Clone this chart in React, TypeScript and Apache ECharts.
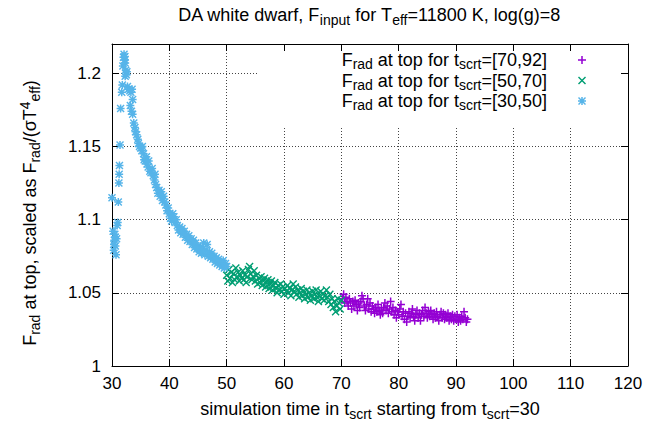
import React, { useEffect, useRef } from "react";
import * as echarts from "echarts";

const titleText = "{m|DA white dwarf, F}{s|input}{m| for T}{s|eff}{m|=11800 K, log(g)=8}";
const xName = "{m|simulation time in t}{s|scrt}{m| starting from t}{s|scrt}{m|=30}";
const yName = "{m|F}{s|rad}{m| at top, scaled as F}{s|rad}{m|/(σT}{u|4}{s|eff}{m|)}";

const legendNames = ["[70,92]", "[50,70]", "[30,50]"];
const seriesColors = ["#9400d3", "#009e73", "#56b4e9"];

const xMin = 30;
const xMax = 120;
const xStep = 10;
const yMin = 1;
const yMax = 1.22;
const yStep = 0.05;

const run70to92: [number, number][] = [
  [70.2, 1.046], [70.4, 1.049], [70.6, 1.043], [70.8, 1.047], [71.0, 1.044], [71.2, 1.041], [71.4, 1.046], [71.6, 1.043],
  [71.8, 1.039], [72.0, 1.044], [72.2, 1.041], [72.4, 1.045], [72.6, 1.042], [72.8, 1.038], [73.0, 1.043], [73.2, 1.040],
  [73.4, 1.044], [73.6, 1.048], [73.8, 1.046], [74.0, 1.041], [74.2, 1.038], [74.4, 1.042], [74.6, 1.046], [74.8, 1.039],
  [75.0, 1.043], [75.2, 1.037], [75.4, 1.041], [75.6, 1.039], [75.8, 1.036], [76.0, 1.040], [76.2, 1.037], [76.4, 1.042],
  [76.6, 1.038], [76.8, 1.035], [77.0, 1.039], [77.2, 1.036], [77.4, 1.040], [77.6, 1.043], [77.8, 1.038], [78.0, 1.041],
  [78.2, 1.036], [78.4, 1.039], [78.6, 1.044], [78.8, 1.037], [79.0, 1.040], [79.2, 1.035], [79.4, 1.038], [79.6, 1.033],
  [79.8, 1.037], [80.0, 1.035], [80.2, 1.039], [80.4, 1.042], [80.6, 1.034], [80.8, 1.037], [81.0, 1.032], [81.2, 1.036],
  [81.4, 1.030], [81.6, 1.034], [81.8, 1.037], [82.0, 1.033], [82.2, 1.036], [82.4, 1.039], [82.6, 1.034], [82.8, 1.031],
  [83.0, 1.035], [83.2, 1.038], [83.4, 1.033], [83.6, 1.036], [83.8, 1.031], [84.0, 1.035], [84.2, 1.038], [84.4, 1.034],
  [84.6, 1.040], [84.8, 1.036], [85.0, 1.033], [85.2, 1.037], [85.4, 1.034], [85.6, 1.038], [85.8, 1.035], [86.0, 1.032],
  [86.2, 1.036], [86.4, 1.033], [86.6, 1.037], [86.8, 1.034], [87.0, 1.031], [87.2, 1.035], [87.4, 1.037], [87.6, 1.033],
  [87.8, 1.036], [88.0, 1.032], [88.2, 1.035], [88.4, 1.033], [88.6, 1.036], [88.8, 1.031], [89.0, 1.034], [89.2, 1.032],
  [89.4, 1.035], [89.6, 1.031], [89.8, 1.034], [90.0, 1.032], [90.2, 1.035], [90.4, 1.030], [90.6, 1.033], [90.8, 1.031],
  [91.0, 1.034], [91.2, 1.032], [91.4, 1.037], [91.6, 1.033], [91.8, 1.030], [92.0, 1.032],
];

const run50to70: [number, number][] = [
  [50.0, 1.062], [50.2, 1.058], [50.4, 1.066], [50.6, 1.060], [50.8, 1.064], [51.0, 1.057], [51.2, 1.063], [51.4, 1.059],
  [51.6, 1.067], [51.8, 1.061], [52.0, 1.064], [52.2, 1.058], [52.4, 1.062], [52.6, 1.060], [52.8, 1.065], [53.0, 1.059],
  [53.2, 1.062], [53.4, 1.057], [53.6, 1.061], [53.8, 1.066], [54.0, 1.068], [54.2, 1.063], [54.4, 1.059], [54.6, 1.061],
  [54.8, 1.065], [55.0, 1.058], [55.2, 1.062], [55.4, 1.056], [55.6, 1.060], [55.8, 1.057], [56.0, 1.061], [56.2, 1.055],
  [56.4, 1.058], [56.6, 1.060], [56.8, 1.054], [57.0, 1.057], [57.2, 1.059], [57.4, 1.053], [57.6, 1.056], [57.8, 1.058],
  [58.0, 1.052], [58.2, 1.055], [58.4, 1.057], [58.6, 1.053], [58.8, 1.050], [59.0, 1.055], [59.2, 1.052], [59.4, 1.056],
  [59.6, 1.051], [59.8, 1.054], [60.0, 1.049], [60.2, 1.053], [60.4, 1.051], [60.6, 1.055], [60.8, 1.050], [61.0, 1.053],
  [61.2, 1.048], [61.4, 1.052], [61.6, 1.056], [61.8, 1.051], [62.0, 1.054], [62.2, 1.049], [62.4, 1.052], [62.6, 1.047],
  [62.8, 1.050], [63.0, 1.053], [63.2, 1.048], [63.4, 1.051], [63.6, 1.046], [63.8, 1.049], [64.0, 1.052], [64.2, 1.047],
  [64.4, 1.050], [64.6, 1.045], [64.8, 1.048], [65.0, 1.051], [65.2, 1.046], [65.4, 1.049], [65.6, 1.052], [65.8, 1.047],
  [66.0, 1.044], [66.2, 1.048], [66.4, 1.051], [66.6, 1.046], [66.8, 1.049], [67.0, 1.045], [67.2, 1.048], [67.4, 1.052],
  [67.6, 1.047], [67.8, 1.044], [68.0, 1.049], [68.2, 1.042], [68.4, 1.046], [68.6, 1.040], [68.8, 1.044], [69.0, 1.037],
  [69.2, 1.041], [69.4, 1.046], [69.6, 1.043], [69.8, 1.039], [70.0, 1.045],
];

const run30to50: [number, number][] = [
  [30.0, 1.115], [30.2, 1.092], [30.3, 1.079], [30.35, 1.083], [30.4, 1.086], [30.5, 1.090], [30.55, 1.088], [30.6, 1.082],
  [30.7, 1.076], [30.8, 1.087], [30.9, 1.096], [31.0, 1.098], [31.1, 1.112], [31.2, 1.125], [31.25, 1.131], [31.3, 1.137],
  [31.4, 1.151], [31.5, 1.176], [31.7, 1.187], [31.8, 1.192], [31.9, 1.205], [32.0, 1.211], [32.1, 1.213], [32.2, 1.209],
  [32.3, 1.207], [32.25, 1.2115], [32.4, 1.202], [32.5, 1.199], [32.6, 1.201], [32.3, 1.198], [32.7, 1.191], [32.9, 1.189],
  [33.1, 1.188], [33.3, 1.187], [33.5, 1.189], [33.6, 1.182], [33.2, 1.178], [33.4, 1.174], [33.6, 1.172], [33.8, 1.166],
  [34.0, 1.163], [34.1, 1.160], [34.3, 1.158], [34.5, 1.155], [34.6, 1.152], [34.8, 1.150], [35.0, 1.149], [35.2, 1.147],
  [35.3, 1.150], [35.5, 1.145], [35.6, 1.141], [35.8, 1.140], [36.0, 1.143], [36.1, 1.138], [36.3, 1.136], [36.4, 1.140],
  [36.6, 1.133], [36.8, 1.132], [37.0, 1.135], [37.2, 1.130], [37.4, 1.127], [37.5, 1.131], [37.6, 1.124], [37.8, 1.122],
  [38.0, 1.118], [38.2, 1.120], [38.4, 1.116], [38.6, 1.119], [38.8, 1.113], [39.0, 1.116], [39.2, 1.112], [39.4, 1.110],
  [39.6, 1.106], [39.8, 1.108], [40.0, 1.104], [40.2, 1.101], [40.4, 1.099], [40.6, 1.104], [40.8, 1.102], [41.0, 1.098],
  [41.2, 1.100], [41.4, 1.096], [41.6, 1.093], [41.8, 1.095], [42.0, 1.091], [42.2, 1.094], [42.4, 1.090], [42.6, 1.092],
  [42.8, 1.088], [43.0, 1.090], [43.2, 1.086], [43.4, 1.089], [43.6, 1.085], [43.8, 1.087], [44.0, 1.083], [44.2, 1.086],
  [44.4, 1.081], [44.6, 1.084], [44.8, 1.080], [45.0, 1.082], [45.2, 1.078], [45.4, 1.081], [45.6, 1.077], [45.8, 1.080],
  [46.0, 1.084], [46.2, 1.076], [46.4, 1.079], [46.6, 1.083], [46.8, 1.075], [47.0, 1.078], [47.2, 1.074], [47.4, 1.077],
  [47.6, 1.073], [47.8, 1.075], [48.0, 1.071], [48.2, 1.074], [48.4, 1.070], [48.6, 1.073], [48.8, 1.069], [49.0, 1.071],
  [49.2, 1.068], [49.4, 1.072], [49.6, 1.067], [49.8, 1.070], [50.0, 1.068],
];

const seriesData = [run70to92, run50to70, run30to50];

const PLUS = "path://M0,3.25L8,3.25L8,4.75L0,4.75Z M3.25,0L4.75,0L4.75,8L3.25,8Z";
const CROSS = "path://M0,1L1,0L8,7L7,8Z M7,0L8,1L1,8L0,7Z";
const STAR = "path://M0,3.25L8,3.25L8,4.75L0,4.75Z M3.25,0L4.75,0L4.75,8L3.25,8Z M0,1L1,0L8,7L7,8Z M7,0L8,1L1,8L0,7Z";
const symbols = [PLUS, CROSS, STAR];

const FONT = "Liberation Sans, Arial, Helvetica, sans-serif";
const makeRich = (size: number, lh: number) => ({
  m: { fontSize: size, lineHeight: lh, fontFamily: FONT, fontWeight: "normal", color: "#000", verticalAlign: "middle" },
  s: { fontSize: Math.round(size * 0.78), lineHeight: Math.round(size * 0.78), fontFamily: FONT, fontWeight: "normal", color: "#000", verticalAlign: "bottom" },
  u: { fontSize: Math.round(size * 0.78), lineHeight: Math.round(size * 0.78), fontFamily: FONT, fontWeight: "normal", color: "#000", verticalAlign: "top" },
});
const labelRich = makeRich(18, 24);
const legendRich = makeRich(18, 22);
const titleRich = makeRich(18, 24);

export default function App() {
  const ref = useRef<HTMLDivElement>(null);
  useEffect(() => {
    if (!ref.current) return;
    const chart = echarts.init(ref.current, undefined, { renderer: "svg" });
    const gridLine = { show: true, lineStyle: { color: "#444", width: 1, type: [1, 2] as any } };
    const frameLine = { show: true, lineStyle: { color: "#000", width: 1 } };
    const tickIn = { show: true, inside: true, length: 7, lineStyle: { color: "#000", width: 1 } };
    const tickFont = { fontSize: 17, fontFamily: FONT, color: "#000" };
    const option: any = {
      animation: false,
      backgroundColor: "#fff",
      title: {
        text: titleText,
        left: 369,
        top: 3,
        padding: 0,
        textAlign: "center",
        textStyle: { fontWeight: "normal", rich: titleRich },
      },
      grid: { left: 112, right: 40, top: 44, bottom: 59 },
      legend: {
        orient: "vertical",
        align: "right",
        right: 82,
        top: 51,
        padding: 0,
        itemGap: 0.5,
        itemWidth: 8,
        itemHeight: 8,
        data: legendNames.map((n, i) => ({ name: n, itemStyle: { color: seriesColors[i], borderWidth: 0 } })),
        formatter: (name: string) => `{m|F}{s|rad}{m| at top for t}{s|scrt}{m|=${name}}`,
        textStyle: { rich: legendRich, padding: [0, 26, 0, 0] },
      },
      graphic: [
        {
          type: "rect",
          z: 1,
          shape: { x: 257, y: 45, width: 370, height: 83 },
          style: { fill: "#fff" },
          silent: true,
        },
      ],
      xAxis: [
        {
          type: "value",
          min: xMin,
          max: xMax,
          interval: xStep,
          position: "bottom",
          axisLine: frameLine,
          axisTick: tickIn,
          splitLine: gridLine,
          axisLabel: { margin: 9, ...tickFont },
          name: xName,
          nameLocation: "middle",
          nameGap: 31,
          nameTextStyle: { rich: labelRich },
        },
        {
          type: "value",
          min: xMin,
          max: xMax,
          interval: xStep,
          position: "top",
          z: 3,
          axisLine: frameLine,
          axisTick: tickIn,
          splitLine: { show: false },
          axisLabel: { show: false },
        },
      ],
      yAxis: [
        {
          type: "value",
          min: yMin,
          max: yMax,
          interval: yStep,
          position: "left",
          axisLine: frameLine,
          axisTick: tickIn,
          splitLine: gridLine,
          axisLabel: { margin: 11, showMaxLabel: false, ...tickFont },
          name: yName,
          nameLocation: "middle",
          nameRotate: 90,
          nameGap: 70,
          nameTextStyle: { rich: labelRich, padding: [0, 16, 0, 0] },
        },
        {
          type: "value",
          min: yMin,
          max: yMax,
          interval: yStep,
          position: "right",
          z: 3,
          axisLine: frameLine,
          axisTick: tickIn,
          splitLine: { show: false },
          axisLabel: { show: false },
        },
      ],
      series: legendNames.map((n, i) => ({
        name: n,
        type: "scatter",
        xAxisIndex: 0,
        yAxisIndex: 0,
        symbol: symbols[i],
        symbolSize: 8,
        itemStyle: { color: seriesColors[i], opacity: 1, borderWidth: 0 },
        data: seriesData[i],
        z: 2,
      })),
    };
    chart.setOption(option);
    return () => chart.dispose();
  }, []);
  return (
    <div
      ref={ref}
      style={{ position: "fixed", left: 0, top: 0, width: 668, height: 426, background: "#fff" }}
    />
  );
}
